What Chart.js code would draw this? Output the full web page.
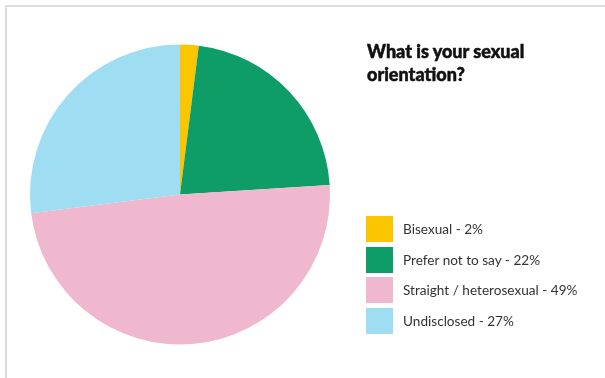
<!DOCTYPE html>
<html>
<head>
<meta charset="utf-8">
<script src="https://cdn.jsdelivr.net/npm/chart.js@4"></script>
<style>
  html, body { margin: 0; padding: 0; background: #fff; }
  #wrap { position: relative; width: 605px; height: 378px; overflow: hidden; }
  #frame { position: absolute; left: 5px; top: 5px; right: -10px; bottom: -10px;
           border-top: 2px solid #dcdcdc; border-left: 2px solid #dcdcdc; }
  canvas { position: absolute; left: 0; top: 0; }
  #title { position: absolute; left: 367px; top: 40px; font-family: Lato, sans-serif;
           font-weight: 900; font-size: 18px; line-height: 23px; color: #111;
           -webkit-text-stroke: 0.5px #111; }
  #legend { position: absolute; left: 366px; top: 216px; font-family: Lato, sans-serif;
            font-size: 13.6px; color: #333; }
  .row { position: absolute; left: 0; height: 26px; white-space: nowrap; }
  .box { position: absolute; left: 0; top: 0; width: 27px; height: 26px; }
  .txt { position: absolute; left: 37px; top: 0; line-height: 26px; }
</style>
</head>
<body>
<div id="wrap">
  <div id="frame"></div>
  <canvas id="c" width="605" height="378"></canvas>
  <div id="title">What is your sexual<br>orientation?</div>
  <div id="legend"></div>
</div>
<script>
const categories = ["Bisexual", "Prefer not to say", "Straight / heterosexual", "Undisclosed"];
const percentages = [2, 22, 49, 27];
const sliceColors = ["#FAC600", "#0E9C67", "#EFB8CF", "#9FDDF3"];

const chart = new Chart(document.getElementById("c"), {
  type: "pie",
  data: {
    labels: categories,
    datasets: [{
      data: percentages,
      backgroundColor: sliceColors,
      borderWidth: 0
    }]
  },
  options: {
    responsive: false,
    animation: false,
    layout: { padding: { left: 30, right: 275, top: 44, bottom: 33 } },
    plugins: {
      legend: { display: false },
      tooltip: { enabled: false },
      title: { display: false }
    }
  }
});

// HTML legend built from the chart's own legend items
const legendEl = document.getElementById("legend");
const items = chart.options.plugins.legend.labels.generateLabels(chart);
items.forEach((item, i) => {
  const row = document.createElement("div");
  row.className = "row";
  row.style.top = (i * 30.5) + "px";
  const box = document.createElement("div");
  box.className = "box";
  box.style.background = item.fillStyle;
  const txt = document.createElement("div");
  txt.className = "txt";
  txt.textContent = item.text + " - " + percentages[item.index] + "%";
  row.appendChild(box);
  row.appendChild(txt);
  legendEl.appendChild(row);
});
</script>
</body>
</html>
